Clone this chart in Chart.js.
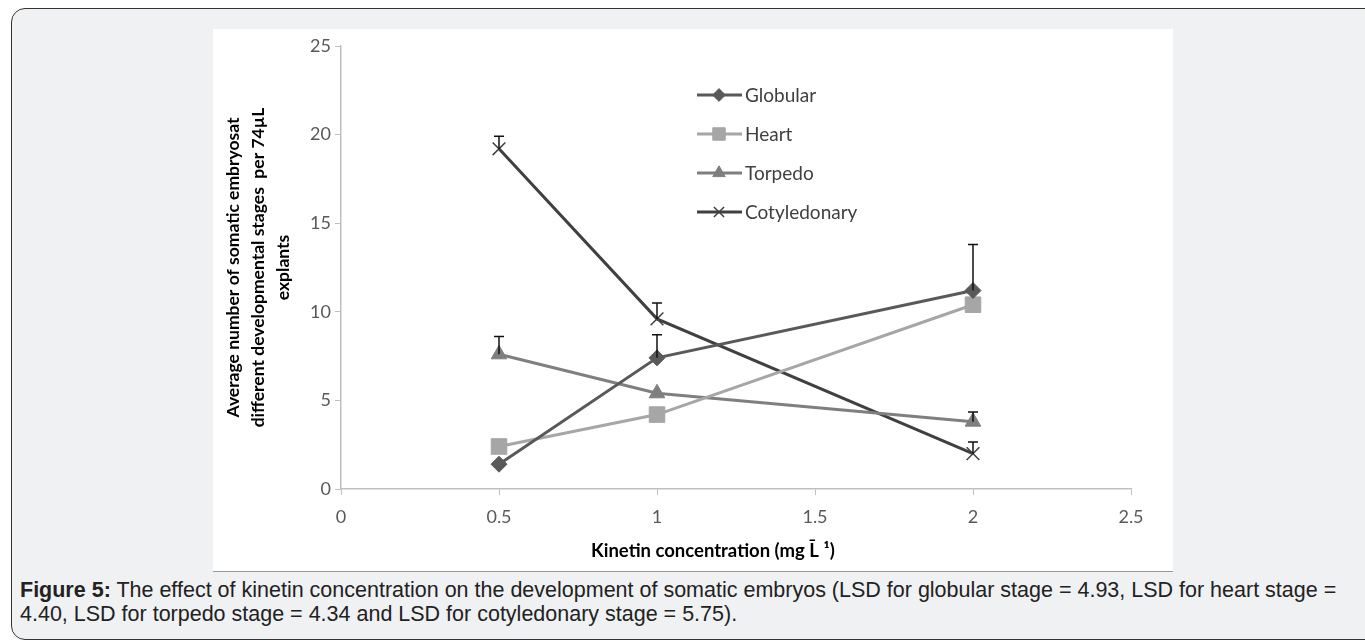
<!DOCTYPE html>
<html>
<head>
<meta charset="utf-8">
<script src="https://cdn.jsdelivr.net/npm/chart.js@4.4.1/dist/chart.umd.min.js"></script>
<style>
  html, body { margin: 0; padding: 0; background: #fff; width: 1365px; height: 643px; overflow: hidden; }
  #frame {
    position: absolute; left: 11px; top: 8px; width: 1370px; height: 632px;
    box-sizing: border-box; border: 1.5px solid #333; border-radius: 14px;
    background: #f0f1f3;
  }
  #plot {
    position: absolute; left: 213px; top: 29px; width: 960px; height: 542px;
    background: #fff; border-bottom: 1px solid #9a9a9a;
  }
  #caption {
    position: absolute; left: 20px; top: 578px; width: 1340px; white-space: nowrap;
    font-family: "Liberation Sans", Arial, sans-serif; font-size: 21.5px; line-height: 24px; color: #222;
  }
</style>
</head>
<body>
<div id="frame"></div>
<div id="plot"><canvas id="chart"></canvas></div>
<div id="caption">
  <div><b>Figure 5:</b> The effect of kinetin concentration on the development of somatic embryos (LSD for globular stage = 4.93, LSD for heart stage =</div>
  <div>4.40, LSD for torpedo stage = 4.34 and LSD for cotyledonary stage = 5.75).</div>
</div>
<script>
// kinetin concentration (mg/L) on x
const concentrations = [0.5, 1, 2];

// mean counts per stage
const globular     = [1.4, 7.4, 11.2];
const heart        = [2.4, 4.2, 10.4];
const torpedo      = [7.6, 5.4, 3.8];
const cotyledonary = [19.2, 9.6, 2.0];

// upper error bars (0 = hidden under the marker)
const globularErr     = [0, 1.3, 2.6];
const heartErr        = [0, 0, 0];
const torpedoErr      = [1.0, 0, 0.55];
const cotyledonaryErr = [0.7, 0.9, 0.65];

const seriesNames = ["Globular", "Heart", "Torpedo", "Cotyledonary"];
const yTicks = [0, 5, 10, 15, 20, 25];
const xTicks = [0, 0.5, 1, 1.5, 2, 2.5];

const colors = {
  globular: "#595959",
  heart: "#a6a6a6",
  torpedo: "#7f7f7f",
  cotyledonary: "#404040",
  axis: "#bfbfbf",
  tick: "#595959",
  legend: "#404040"
};

const pts = (ys) => concentrations.map((x, i) => ({ x, y: ys[i] }));

function series(label, ys, errs, color, style, radius, bw) {
  return {
    label, data: pts(ys), errors: errs,
    borderColor: color, backgroundColor: color,
    borderWidth: 3, tension: 0,
    pointStyle: style, pointRadius: radius, pointHoverRadius: radius,
    pointBackgroundColor: color, pointBorderColor: color, pointBorderWidth: bw
  };
}

// error bars: vertical line up to value+err with a small cap
const errorBars = {
  id: "errorBars",
  afterDatasetsDraw(chart) {
    const { ctx, scales: { x, y } } = chart;
    ctx.save();
    ctx.strokeStyle = "#111";
    ctx.lineWidth = 1.5;
    chart.data.datasets.forEach((ds) => {
      ds.data.forEach((p, i) => {
        const e = ds.errors[i];
        if (!e) return;
        const px = x.getPixelForValue(p.x);
        const y0 = y.getPixelForValue(p.y);
        const y1 = y.getPixelForValue(p.y + e);
        ctx.beginPath();
        ctx.moveTo(px, y0); ctx.lineTo(px, y1);
        ctx.moveTo(px - 5, y1); ctx.lineTo(px + 5, y1);
        ctx.stroke();
      });
    });
    ctx.restore();
  }
};

// legend drawn inside the plot, line + marker + label
const insideLegend = {
  id: "insideLegend",
  afterDraw(chart) {
    const { ctx, chartArea } = chart;
    const x0 = chartArea.left + 356, y0 = chartArea.top + 49, rowH = 39;
    ctx.save();
    chart.data.datasets.forEach((ds, i) => {
      const y = y0 + i * rowH;
      ctx.strokeStyle = ds.borderColor;
      ctx.lineWidth = 3;
      ctx.beginPath(); ctx.moveTo(x0, y); ctx.lineTo(x0 + 45, y); ctx.stroke();
      ctx.fillStyle = ds.pointBackgroundColor;
      ctx.strokeStyle = ds.pointBorderColor;
      ctx.lineWidth = ds.pointBorderWidth;
      Chart.helpers.drawPoint(ctx, { pointStyle: ds.pointStyle, radius: ds.pointRadius * 0.8, rotation: 0, borderWidth: ds.pointBorderWidth }, x0 + 22, y);
      ctx.fillStyle = colors.legend;
      ctx.font = "19px Lato";
      ctx.textBaseline = "middle";
      ctx.fillText(ds.label, x0 + 48, y + 1);
    });
    ctx.restore();
  }
};

new Chart(document.getElementById("chart"), {
  type: "line",
  data: {
    datasets: [
      series(seriesNames[0], globular, globularErr, colors.globular, "rectRot", 8, 1),
      series(seriesNames[1], heart, heartErr, colors.heart, "rect", 11, 1),
      series(seriesNames[2], torpedo, torpedoErr, colors.torpedo, "triangle", 9, 1),
      series(seriesNames[3], cotyledonary, cotyledonaryErr, colors.cotyledonary, "crossRot", 9, 1.5)
    ]
  },
  options: {
    responsive: true,
    maintainAspectRatio: false,
    animation: false,
    layout: { padding: { top: 17, right: 42, left: 0, bottom: 0 } },
    plugins: { legend: { display: false }, tooltip: { enabled: false } },
    scales: {
      x: {
        type: "linear", min: 0, max: 2.5,
        afterBuildTicks: (s) => { s.ticks = xTicks.map(v => ({ value: v })); },
        afterFit: (s) => { s.height = 82; },
        ticks: { color: colors.tick, font: { family: "Lato", size: 18 }, padding: 11, callback: (v) => String(v) },
        grid: { drawOnChartArea: false, tickLength: 6, color: colors.axis },
        border: { color: colors.axis, width: 1.5 },
        title: {
          display: true,
          // trailing en spaces nudge the centred title left, as in the original
          text: "Kinetin concentration (mg L\u0304 \u00b9)\u2002\u2002\u2002\u2002\u2002",
          color: "#000",
          font: { family: "Lato", size: 18.5, weight: "bold" }, padding: { top: 0, bottom: 9 }
        }
      },
      y: {
        min: 0, max: 25,
        afterBuildTicks: (s) => { s.ticks = yTicks.map(v => ({ value: v })); },
        afterFit: (s) => { s.width = 128; },
        ticks: { color: colors.tick, font: { family: "Lato", size: 18 }, padding: 4 },
        grid: { drawOnChartArea: false, tickLength: 6, color: colors.axis },
        border: { color: colors.axis, width: 1.5 },
        title: {
          display: true,
          text: ["Average number of somatic embryosat", "different developmental stages  per 74\u00b5L", "explants"],
          color: "#000",
          font: { family: "Lato", size: 17.5, weight: "bold", lineHeight: 1.43 }, padding: { top: 8, bottom: 0 }
        }
      }
    }
  },
  plugins: [errorBars, insideLegend]
});
</script>
</body>
</html>
